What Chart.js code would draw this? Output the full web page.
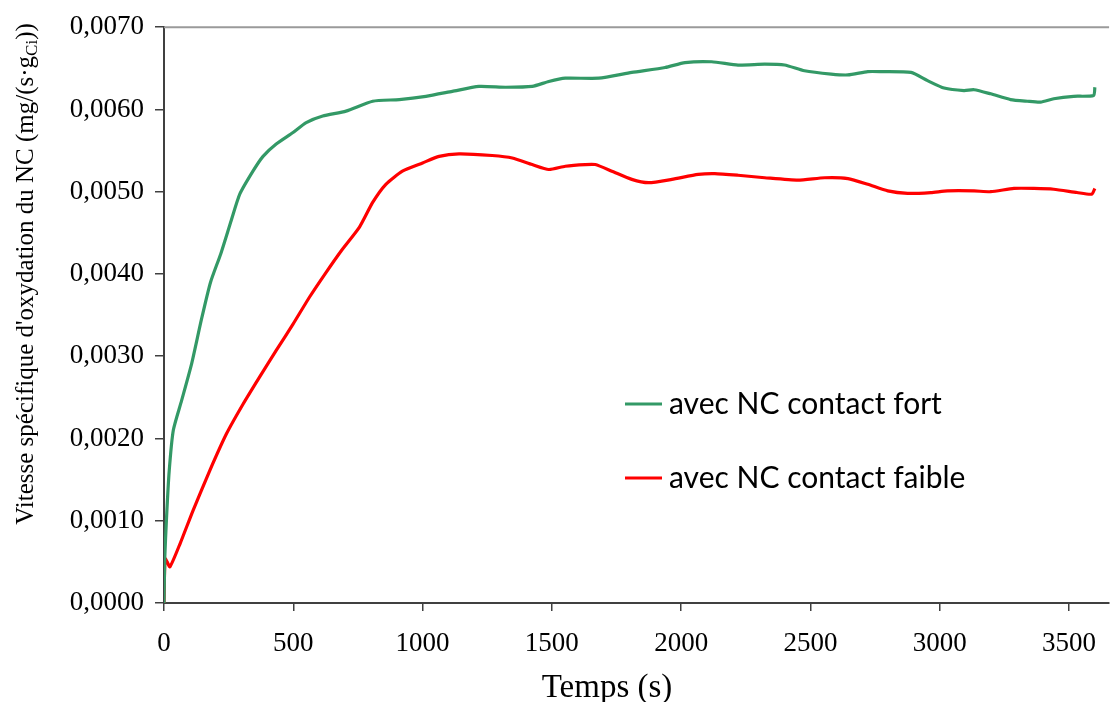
<!DOCTYPE html>
<html>
<head>
<meta charset="utf-8">
<script src="https://cdn.jsdelivr.net/npm/chart.js@4/dist/chart.umd.min.js"></script>
<style>
  html, body { margin: 0; padding: 0; background: #fff; }
  #wrap { width: 1113px; height: 702px; position: relative; }
</style>
</head>
<body>
<div id="wrap"><canvas id="chart"></canvas></div>
<script>
// Series (time in s, rate in mg/(s·gCi))
const tempsFort = [0, 3, 10, 20, 36, 68, 107, 145, 180, 220, 260, 293, 344, 383, 434, 499, 550, 614, 704, 807, 910, 1013, 1115, 1218, 1321, 1424, 1488, 1552, 1681, 1809, 1938, 2015, 2118, 2220, 2323, 2400, 2477, 2580, 2645, 2722, 2773, 2889, 2953, 3017, 3094, 3133, 3197, 3274, 3339, 3390, 3441, 3518, 3595, 3600];
const vitesseFort = [0, 0.00055, 0.00105, 0.0016, 0.0021, 0.00246, 0.00291, 0.00345, 0.0039, 0.00425, 0.00465, 0.00497, 0.00525, 0.00543, 0.00558, 0.00572, 0.00584, 0.00592, 0.00598, 0.0061, 0.00612, 0.00616, 0.00622, 0.00628, 0.00627, 0.00628, 0.00634, 0.00638, 0.00638, 0.00645, 0.00651, 0.00657, 0.00658, 0.00654, 0.00655, 0.00654, 0.00647, 0.00643, 0.00642, 0.00646, 0.00646, 0.00645, 0.00635, 0.00626, 0.00623, 0.00624, 0.00619, 0.00612, 0.0061, 0.00609, 0.00613, 0.00616, 0.00617, 0.00627];

const tempsFaible = [0, 4, 12, 23, 62, 113, 177, 242, 306, 370, 434, 499, 563, 627, 685, 756, 807, 858, 922, 1000, 1064, 1141, 1269, 1347, 1424, 1488, 1552, 1629, 1668, 1732, 1809, 1874, 1964, 2066, 2130, 2220, 2323, 2452, 2555, 2645, 2722, 2799, 2876, 2966, 3030, 3133, 3197, 3287, 3364, 3441, 3531, 3588, 3600];
const vitesseFaible = [0, 0.00054, 0.0005, 0.00044, 0.00072, 0.00113, 0.00161, 0.00206, 0.00242, 0.00275, 0.00307, 0.00339, 0.00372, 0.00402, 0.00428, 0.00457, 0.00487, 0.00509, 0.00525, 0.00535, 0.00543, 0.00546, 0.00544, 0.00541, 0.00533, 0.00527, 0.00531, 0.00533, 0.00533, 0.00525, 0.00515, 0.00511, 0.00515, 0.00521, 0.00522, 0.0052, 0.00517, 0.00514, 0.00517, 0.00516, 0.00509, 0.00501, 0.00498, 0.00499, 0.00501, 0.00501, 0.005, 0.00504, 0.00504, 0.00503, 0.00499, 0.00497, 0.00504];

const xTicks = [0, 500, 1000, 1500, 2000, 2500, 3000, 3500];
const yTicks = [0, 0.001, 0.002, 0.003, 0.004, 0.005, 0.006, 0.007];

const seriesLabels = ['avec NC contact fort', 'avec NC contact faible'];
const seriesColors = ['#339966', '#ff0000'];
const xTitle = 'Temps (s)';
const yTitle = ["Vitesse spécifique d'oxydation du NC (mg/(s·g", 'Ci', '))'];

const toPoints = (xs, ys) => xs.map((x, i) => ({ x, y: ys[i] }));

const serif = '"Liberation Serif", "Times New Roman", serif';

// draws titles, top border line and the in-plot legend
const decorations = {
    id: 'decorations',
    beforeDatasetsDraw(chart) {
        const { ctx, chartArea } = chart;
        ctx.save();
        ctx.strokeStyle = '#9a9a9a';
        ctx.lineWidth = 2;
        ctx.beginPath();
        ctx.moveTo(chartArea.left, chartArea.top);
        ctx.lineTo(chartArea.right, chartArea.top);
        ctx.stroke();
        ctx.restore();
    },
    afterDraw(chart) {
        const { ctx } = chart;
        ctx.save();
        ctx.fillStyle = '#000';

        // x title
        ctx.font = '33px ' + serif;
        ctx.textAlign = 'center';
        ctx.textBaseline = 'alphabetic';
        ctx.fillText(xTitle, 607, 697);

        // y title with subscript, rotated
        ctx.translate(33, 274);
        ctx.rotate(-Math.PI / 2);
        const big = '25px ' + serif, small = '17px ' + serif;
        ctx.font = big;
        const w0 = ctx.measureText(yTitle[0]).width;
        const w2 = ctx.measureText(yTitle[2]).width;
        ctx.font = small;
        const w1 = ctx.measureText(yTitle[1]).width;
        let x = -(w0 + w1 + w2) / 2;
        ctx.textAlign = 'left';
        ctx.font = big;
        ctx.fillText(yTitle[0], x, 0);
        x += w0;
        ctx.font = small;
        ctx.fillText(yTitle[1], x, 4);
        x += w1;
        ctx.font = big;
        ctx.fillText(yTitle[2], x, 0);
        ctx.restore();

        // legend inside the plot
        ctx.save();
        ctx.font = '30px Lato, "Noto Sans", sans-serif';
        ctx.textBaseline = 'middle';
        ctx.textAlign = 'left';
        const rows = [404, 478];
        chart.data.datasets.forEach((ds, i) => {
            ctx.strokeStyle = ds.borderColor;
            ctx.lineWidth = 3;
            ctx.beginPath();
            ctx.moveTo(625, rows[i]);
            ctx.lineTo(662, rows[i]);
            ctx.stroke();
            ctx.fillStyle = '#000';
            ctx.fillText(ds.label, 669, rows[i]);
        });
        ctx.restore();
    }
};

new Chart(document.getElementById('chart'), {
    type: 'line',
    data: {
        datasets: [
            {
                label: seriesLabels[0],
                data: toPoints(tempsFort, vitesseFort),
                borderColor: seriesColors[0],
                borderWidth: 3.2,
                pointRadius: 0,
                tension: 0.2,
                fill: false
            },
            {
                label: seriesLabels[1],
                data: toPoints(tempsFaible, vitesseFaible),
                borderColor: seriesColors[1],
                borderWidth: 3.2,
                pointRadius: 0,
                tension: 0.2,
                fill: false
            }
        ]
    },
    options: {
        responsive: true,
        maintainAspectRatio: false,
        animation: false,
        layout: { padding: { top: 26, right: 0, left: 0, bottom: 0 } },
        plugins: {
            legend: { display: false },
            tooltip: { enabled: false }
        },
        scales: {
            x: {
                type: 'linear',
                min: 0,
                max: 3655,
                grid: { drawOnChartArea: false, drawTicks: true, tickLength: 8, color: '#404040', lineWidth: 1.5 },
                border: { color: '#404040', width: 2 },
                ticks: {
                    maxRotation: 0,
                    autoSkip: false,
                    color: '#000',
                    padding: 17,
                    font: { family: serif, size: 27 },
                    callback: v => String(v)
                },
                afterBuildTicks(scale) { scale.ticks = xTicks.map(v => ({ value: v })); },
                afterFit(scale) { scale.height = 99; }
            },
            y: {
                min: 0,
                max: 0.007,
                grid: { drawOnChartArea: false, drawTicks: true, tickLength: 9, color: '#404040', lineWidth: 1.5 },
                border: { color: '#404040', width: 2 },
                ticks: {
                    autoSkip: false,
                    color: '#000',
                    padding: 11,
                    font: { family: serif, size: 27 },
                    callback: v => v.toFixed(4).replace('.', ',')
                },
                afterBuildTicks(scale) { scale.ticks = yTicks.map(v => ({ value: v })); },
                afterFit(scale) { scale.width = 164; }
            }
        }
    },
    plugins: [decorations]
});
</script>
</body>
</html>
